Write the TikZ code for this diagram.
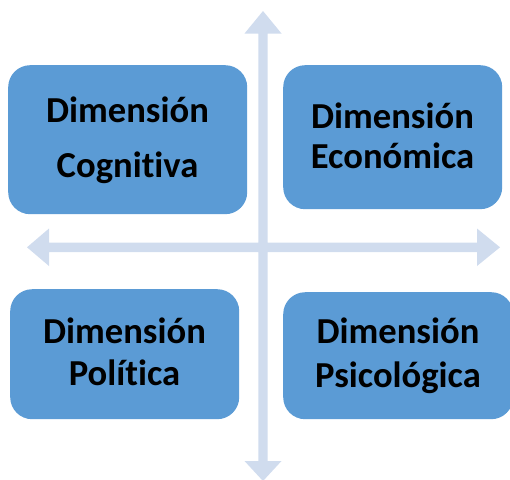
\documentclass[tikz,border=0pt]{standalone}
\usepackage{fontspec}
\setmainfont{Carlito}[Ligatures=NoCommon]
\definecolor{boxblue}{HTML}{5B9BD5}
\definecolor{arrowblue}{HTML}{D0DCEE}
\begin{document}
\begin{tikzpicture}[x=1pt,y=-1pt,
  dimbox/.style={draw=none,fill=boxblue,rounded corners=22pt,anchor=north west,inner sep=0pt},
  dimtext/.style={anchor=base,inner sep=0pt,font=\fontsize{36.6}{40}\selectfont\bfseries,text=black},
  axisfill/.style={fill=arrowblue,draw=none}]
\useasboundingbox (0,0) rectangle (510,479);
% axes
\fill[axisfill] (258.3,33.5) -- (244.5,33.5) -- (263,11) -- (281.5,33.5) -- (267.7,33.5)
  -- (267.7,242.5) -- (477,242.5) -- (477,228.5) -- (500,247.3) -- (477,266) -- (477,252.2)
  -- (267.7,252.2) -- (267.7,461) -- (281.5,461) -- (263,481) -- (244.5,461) -- (258.3,461)
  -- (258.3,252.2) -- (49,252.2) -- (49,266) -- (27,247.3) -- (49,228.5) -- (49,242.5)
  -- (258.3,242.5) -- cycle;
% boxes
\node[dimbox,minimum width=239pt,minimum height=149pt] (cog) at (8,65) {};
\node[dimbox,minimum width=219pt,minimum height=144pt] (eco) at (283,65) {};
\node[dimbox,minimum width=229pt,minimum height=130pt] (pol) at (10,289) {};
\node[dimbox,minimum width=230pt,minimum height=127pt] (psi) at (283,292) {};
% texts
\node[dimtext] (cog1) at (127.5,122) {Dimensión};
\node[dimtext] (cog2) at (127.5,177) {Cognitiva};
\node[dimtext] (eco1) at (392.5,128) {Dimensión};
\node[dimtext] (eco2) at (392.5,168) {Económica};
\node[dimtext] (pol1) at (124.5,343) {Dimensión};
\node[dimtext] (pol2) at (124.5,385) {Política};
\node[dimtext] (psi1) at (398,343) {Dimensión};
\node[dimtext] (psi2) at (398,387) {Psicológica};
\end{tikzpicture}
\end{document}
